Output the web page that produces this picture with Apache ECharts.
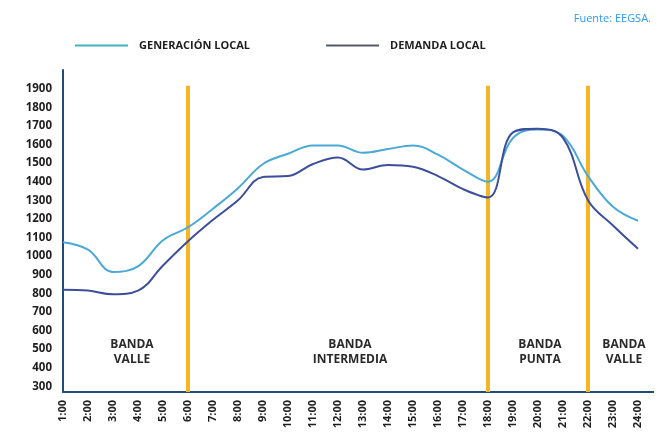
<!DOCTYPE html>
<html>
<head>
<meta charset="utf-8">
<script src="https://cdn.jsdelivr.net/npm/echarts@6/dist/echarts.min.js"></script>
<style>
html,body{margin:0;padding:0;background:#fff;}
#chart{width:668px;height:440px;}
</style>
</head>
<body>
<div id="chart"></div>
<script>
const hours = ['1:00','2:00','3:00','4:00','5:00','6:00','7:00','8:00','9:00','10:00','11:00','12:00','13:00','14:00','15:00','16:00','17:00','18:00','19:00','20:00','21:00','22:00','23:00','24:00'];
const generacionLocal = [1075, 1035, 915, 945, 1085, 1155, 1255, 1365, 1495, 1550, 1595, 1595, 1555, 1575, 1595, 1545, 1465, 1400, 1635, 1680, 1645, 1430, 1265, 1190];
const demandaLocal = [820, 815, 795, 815, 950, 1080, 1195, 1300, 1425, 1430, 1495, 1530, 1465, 1490, 1480, 1430, 1360, 1315, 1665, 1685, 1635, 1300, 1165, 1040];
const bandBoundaries = ['6:00', '18:00', '22:00'];
const seriesNames = ['GENERACIÓN LOCAL', 'DEMANDA LOCAL'];
const bandLabels = [
  {text: 'BANDA\nVALLE', x: 132},
  {text: 'BANDA\nINTERMEDIA', x: 350},
  {text: 'BANDA\nPUNTA', x: 540},
  {text: 'BANDA\nVALLE', x: 624}
];

const FONT = '"Open Sans", "DejaVu Sans", sans-serif';
const chart = echarts.init(document.getElementById('chart'), null, {renderer: 'canvas'});

const boundaryLines = bandBoundaries.map(h => [{coord: [h, 270]}, {coord: [h, 1915]}]);

chart.setOption({
  animation: false,
  backgroundColor: '#ffffff',
  title: {
    text: 'Fuente: EEGSA.',
    right: 12, top: 8,
    textStyle: {fontFamily: FONT, fontSize: 11, fontWeight: 'normal', color: '#2d9bf0'}
  },
  legend: {
    top: 35, left: 70,
    icon: 'rect',
    itemWidth: 53, itemHeight: 2,
    itemGap: 76,
    textStyle: {fontFamily: FONT, fontSize: 11, fontWeight: 'bold', color: '#1e1e1e', padding: [0,0,0,6]},
    data: seriesNames
  },
  grid: {left: 63, right: 30, top: 70, bottom: 48, containLabel: false},
  xAxis: {
    type: 'category',
    data: hours,
    boundaryGap: false,
    axisLine: {show: true, lineStyle: {color: '#1f4b75', width: 2}},
    axisTick: {show: false},
    splitLine: {show: false},
    axisLabel: {
      rotate: 90, interval: 0, margin: 8,
      fontFamily: FONT, fontSize: 11, fontWeight: 'bold', color: '#1e1e1e'
    }
  },
  yAxis: {
    type: 'value',
    min: 270, max: 2000, interval: 10,
    axisLine: {show: true, lineStyle: {color: '#1f4b75', width: 2}},
    axisTick: {show: false},
    splitLine: {show: false},
    axisLabel: {
      margin: 11,
      fontFamily: FONT, fontSize: 11.5, fontWeight: 'bold', color: '#1e1e1e',
      formatter: v => (v % 100 === 0 && v < 2000) ? String(v) : ''
    }
  },
  series: [
    {
      name: seriesNames[0],
      type: 'line',
      data: generacionLocal,
      smooth: 0.4,
      symbol: 'none',
      lineStyle: {color: '#4aa9d6', width: 2},
      itemStyle: {color: '#3db3be'},
      z: 3,
      markLine: {
        silent: true,
        symbol: 'none',
        label: {show: false},
        lineStyle: {color: '#f6b427', width: 4, type: 'solid'},
        data: boundaryLines,
        z: 1
      }
    },
    {
      name: seriesNames[1],
      type: 'line',
      data: demandaLocal,
      smooth: 0.4,
      symbol: 'none',
      lineStyle: {color: '#3c4f9c', width: 2},
      itemStyle: {color: '#555a66'},
      z: 3
    }
  ],
  graphic: [
    {type: 'line', shape: {x1: 638, y1: 392, x2: 654, y2: 392}, style: {stroke: '#1f4b75', lineWidth: 2}}
  ].concat(bandLabels.map(b => ({
    type: 'text',
    x: b.x, y: 337,
    style: {
      text: b.text, textAlign: 'center', textVerticalAlign: 'top',
      fontFamily: FONT, fontSize: 12, fontWeight: 'bold', fill: '#2a2a2a', lineHeight: 15
    }
  })))
});
</script>
</body>
</html>
